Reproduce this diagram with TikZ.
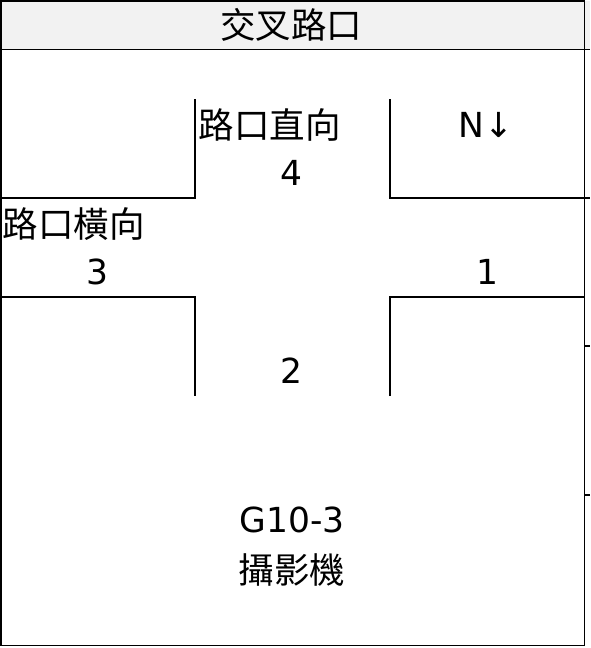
\documentclass[tikz,border=0pt]{standalone}
\usepackage{fontspec}
\setmainfont{DejaVu Sans}
\newfontfamily\cjk{Noto Sans CJK TC}
\begin{document}
\begin{tikzpicture}[x=1pt,y=-1pt,line width=1.8pt,
  txt/.style={font=\fontsize{34.5}{40}\selectfont, inner sep=0pt, anchor=center},
  ctxt/.style={font=\fontsize{35.5}{40}\selectfont\cjk, inner sep=0pt, anchor=center},
  wall/.style={draw=black, line width=1.8pt}]
\useasboundingbox (0,0) rectangle (590,648);
\fill[fill={rgb,255:red,242;green,242;blue,242}] (1,1) rectangle (590,49.5);
\draw[wall] (1,1) rectangle (584.5,645.5);
\draw[wall] (1,49.5) -- (590,49.5);
% corners of the crossing
\draw[wall] (195,99) -- (195,198) -- (1,198);
\draw[wall] (1,297) -- (195,297) -- (195,396);
\draw[wall] (390,99) -- (390,198) -- (590,198);
\draw[wall] (390,396) -- (390,297) -- (584.5,297);
% partial neighbouring column
\draw[wall] (584.5,346) -- (590,346);
\draw[wall] (584.5,495) -- (590,495);
% texts
\node[ctxt] (title) at (291,25) {交叉路口};
\node[ctxt, anchor=west] (straight) at (198,125) {路口直向};
\node[txt] (n4) at (291,173) {4};
\node[txt] (north) at (486,125) {N↓};
\node[ctxt, anchor=west] (cross) at (2,224) {路口橫向};
\node[txt] (n3) at (97,272) {3};
\node[txt] (n1) at (487,272) {1};
\node[txt] (n2) at (291,371) {2};
\node[txt] (cam) at (292,520) {G10-3};
\node[ctxt] (camlabel) at (292,570) {攝影機};
\end{tikzpicture}
\end{document}
